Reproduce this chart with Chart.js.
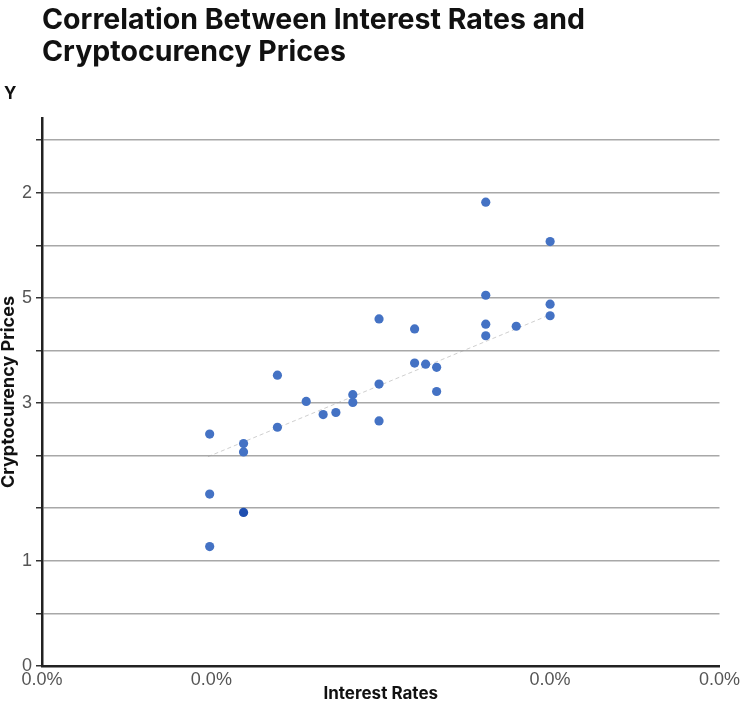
<!DOCTYPE html>
<html><head><meta charset="utf-8">
<script src="https://cdn.jsdelivr.net/npm/chart.js@4.4.1/dist/chart.umd.min.js"></script>
<style>html,body{margin:0;padding:0;background:#fff;} canvas{display:block;}</style>
</head><body>
<canvas id="c" width="743" height="704"></canvas>
<script>
const titleLines = ['Correlation Between Interest Rates and', 'Cryptocurency Prices'];
const cornerLabel = 'Y';
const xAxisTitle = 'Interest Rates';
const yAxisTitle = 'Cryptocurency Prices';

const interestRates = [2.62, 3.0, 2.62, 3.0, 3.0, 2.62, 2.80, 2.62, 1.99, 2.20, 2.20, 2.265, 2.33, 2.33, 1.99, 1.39, 1.56, 1.835, 1.835, 1.66, 1.735, 1.99, 1.39, 0.99, 1.19, 1.19, 0.99, 1.19, 0.99];
const cryptoPrices  = [8.82, 8.07, 7.05, 6.88, 6.66, 6.50, 6.46, 6.28, 6.60, 6.41, 5.76, 5.74, 5.68, 5.22, 5.36, 5.53, 5.03, 5.16, 5.01, 4.78, 4.82, 4.66, 4.54, 4.41, 4.23, 4.07, 3.27, 2.92, 2.27];
const highlightedIndex = [27];

const trendX = [0.98, 3.0];
const trendY = [3.98, 6.68];

const xTickValues = [0, 1, 3, 4];
const xTickLabels = ['0.0%', '0.0%', '0.0%', '0.0%'];
const yTickValues = [0, 1, 2, 3, 4, 5, 6, 7, 8, 9, 10];
const yTickLabels = ['0', '', '1', '', '', '3', '', '5', '', '2', ''];

const pointColor = '#4472c4';
const highlightColor = '#1f4fb0';

const points = interestRates.map((x, i) => ({x: x, y: cryptoPrices[i]}));
const trend = trendX.map((x, i) => ({x: x, y: trendY[i]}));
const pointColors = interestRates.map((_, i) => highlightedIndex.includes(i) ? highlightColor : pointColor);

new Chart(document.getElementById('c'), {
  type: 'scatter',
  data: {
    datasets: [
      {
        label: 'Prices',
        data: points,
        backgroundColor: pointColors,
        pointBackgroundColor: pointColors,
        pointBorderWidth: 0,
        pointRadius: 4.6,
        order: 1
      },
      {
        label: 'Trend',
        data: trend,
        showLine: true,
        pointRadius: 0,
        borderColor: 'rgba(160,160,160,0.5)',
        borderWidth: 1,
        borderDash: [4, 3],
        fill: false,
        order: 2
      }
    ]
  },
  options: {
    responsive: false,
    animation: false,
    layout: { padding: { left: 4, right: 19, top: 0, bottom: 0 } },
    plugins: {
      legend: { display: false },
      tooltip: { enabled: false },
      title: {
        display: true,
        text: titleLines,
        align: 'start',
        fullSize: false,
        color: '#111',
        font: { family: 'Inter', size: 28.5, weight: 'bold', lineHeight: 1.13 },
        padding: { top: 4.4, bottom: 0 }
      },
      subtitle: {
        display: true,
        text: cornerLabel,
        align: 'start',
        color: '#111',
        font: { family: 'Inter', size: 17, weight: 'bold', lineHeight: 1 },
        padding: { top: 17, bottom: 15.2 }
      }
    },
    scales: {
      x: {
        type: 'linear',
        position: 'bottom',
        min: 0,
        max: 4,
        afterBuildTicks: s => { s.ticks = xTickValues.map(v => ({ value: v })); },
        afterFit: s => { s.height = 38; },
        ticks: {
          autoSkip: false,
          maxRotation: 0,
          padding: 3,
          color: '#555',
          font: { family: 'Liberation Sans', size: 18 },
          callback: v => xTickLabels[xTickValues.indexOf(v)]
        },
        grid: { display: false, drawTicks: false },
        border: { display: true, color: '#222', width: 2.5 },
        title: {
          display: true,
          text: xAxisTitle,
          color: '#111',
          font: { family: 'Inter', size: 17, weight: 'bold', lineHeight: 1 },
          padding: { top: 0, bottom: 1.5 }
        }
      },
      y: {
        position: 'left',
        min: 0,
        max: 10.42,
        afterBuildTicks: s => { s.ticks = yTickValues.map(v => ({ value: v })); },
        afterFit: s => { s.width = 38; },
        ticks: {
          padding: 4,
          color: '#555',
          font: { family: 'Liberation Sans', size: 18 },
          callback: v => yTickLabels[yTickValues.indexOf(v)]
        },
        grid: { color: '#a8a8a8', lineWidth: 1.5, tickLength: 6, tickColor: '#333', drawTicks: true },
        border: { display: true, color: '#222', width: 2.5 },
        title: {
          display: true,
          text: yAxisTitle,
          color: '#111',
          font: { family: 'Inter', size: 18, weight: 'bold', lineHeight: 1 },
          padding: { top: -4, bottom: 0 }
        }
      }
    }
  }
});
</script>
</body></html>
